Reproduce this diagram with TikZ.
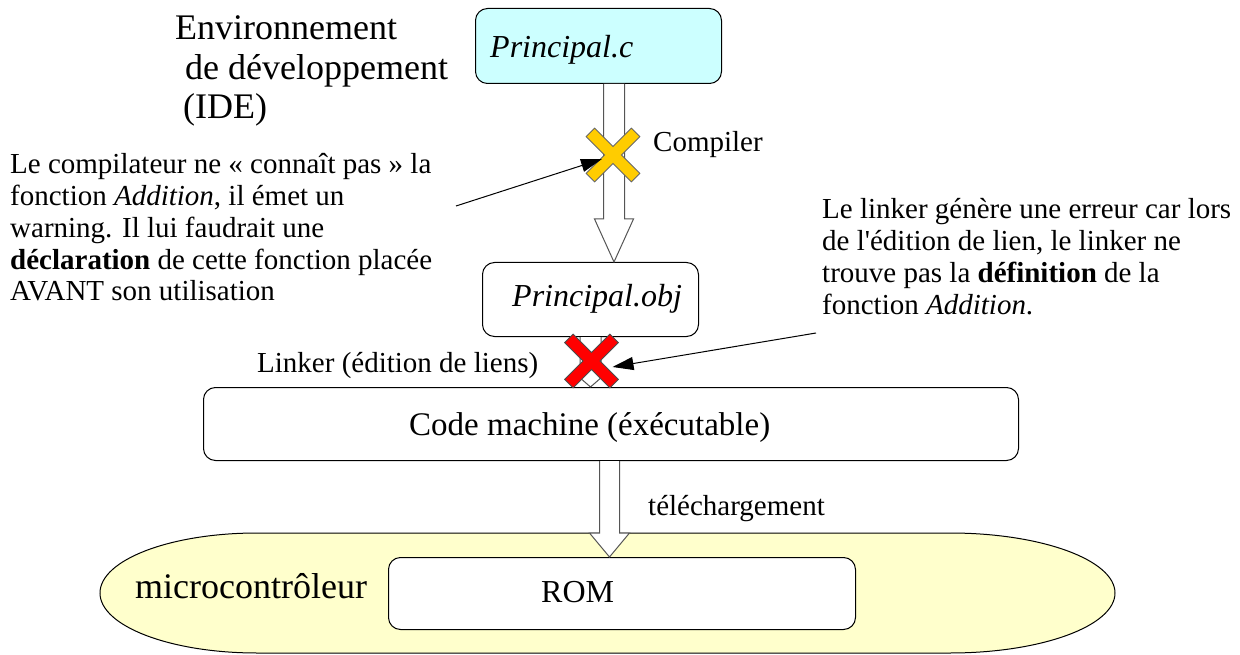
\documentclass[tikz,border=0pt]{standalone}
\usepackage{fontspec}
\setmainfont{Liberation Serif}[
  ItalicFont={Liberation Serif Italic},
  BoldFont={Liberation Serif Bold},
  BoldItalicFont={Liberation Serif Bold Italic}]
\usetikzlibrary{calc,arrows.meta}

\definecolor{srcfill}{HTML}{CCFFFF}
\definecolor{mcufill}{HTML}{FFFFCC}
\definecolor{warnfill}{HTML}{FFCC00}
\definecolor{errfill}{HTML}{FF0000}
\definecolor{arrowline}{HTML}{555555}

\tikzset{
  box/.style={draw=black, line width=1pt, rounded corners=12pt, anchor=north west,
              inner sep=0pt, fill=white},
  txt/.style={inner sep=0pt, anchor=base west, font=\fontsize{29}{31.8}\selectfont},
  boxtxt/.style={inner sep=0pt, anchor=base west, font=\fontsize{32}{36}\selectfont},
  bigtxt/.style={inner sep=0pt, anchor=base west, font=\fontsize{36}{39.5}\selectfont},
  blockarr/.style={draw=arrowline, line width=1pt, fill=white, line join=miter},
  annarrow/.style={draw=black, line width=1pt, -{Triangle[length=21pt,width=13pt]}},
  crossmark/.pic={
    \filldraw[pic actions] (6,32) -- (-6,32) -- (-6,6) -- (-32,6) -- (-32,-6) -- (-6,-6)
      -- (-6,-32) -- (6,-32) -- (6,-6) -- (32,-6) -- (32,6) -- (6,6) -- cycle;
  },
}

% hollow block arrow: start point, target anchor, shaft half width, head half width, head length
\newcommand\blockarrow[5]{%
  \draw[blockarr]
    ($(#1)+(-#3,0)$) -- ($(#1 |- #2)+(-#3,-#5)$) -- ($(#1 |- #2)+(-#4,-#5)$)
    -- (#1 |- #2) -- ($(#1 |- #2)+(#4,-#5)$) -- ($(#1 |- #2)+(#3,-#5)$)
    -- ($(#1)+(#3,0)$);}

\begin{document}
\begin{tikzpicture}[x=1pt,y=-1pt]
\useasboundingbox (0,0) rectangle (1240,655);

% microcontroller outline: straight top and bottom, elliptic ends
\filldraw[fill=mcufill, draw=black, line width=1pt]
  (257,533) -- (950,533)
  .. controls (1041.1,533) and (1115,559.9) .. (1115,593)
  .. controls (1115,626.1) and (1041.1,653) .. (950,653)
  -- (257,653)
  .. controls (170.3,653) and (100,626.1) .. (100,593)
  .. controls (100,559.9) and (170.3,533) .. (257,533) -- cycle;

% boxes
\node[box, fill=srcfill, minimum width=246pt, minimum height=75pt] (pc) at (475,8) {};
\node[box, minimum width=216pt, minimum height=74pt] (pobj) at (482,262) {};
\node[box, minimum width=815pt, minimum height=73pt] (cm) at (203,387) {};
\node[box, minimum width=467pt, minimum height=72pt] (rom) at (388,557) {};

% box captions
\node[boxtxt] (pc-t) at ($(pc.north west)+(15,50)$) {\textit{Principal.c}};
\node[boxtxt] (pobj-t) at ($(pobj.north west)+(30,44)$) {\textit{Principal.obj}};
\node[boxtxt, font=\fontsize{33}{36}\selectfont] (cm-t) at ($(cm.north west)+(206,48)$)
  {Code machine (éxécutable)};
\node[boxtxt] (rom-t) at ($(rom.north west)+(153,45)$) {ROM};

% build steps
\coordinate (c1) at ($(pc.south)+(15.5,0)$);
\coordinate (c3) at ($(cm.south)+(-1.5,0)$);
\blockarrow{c1}{pobj.north}{10.5}{19.5}{43}
\blockarrow{pobj.south}{cm.north}{10.5}{16}{14}
\blockarrow{c3}{rom.north}{10}{20}{24}

% labels (multi-line nodes sit on the baseline of their last line)
\node[bigtxt, align=left] (ide) at (175,119)
  {Environnement\\\hspace*{10pt}de développement\\\hspace*{8pt}(IDE)};
\node[bigtxt] (mcu) at (135,598) {microcontrôleur};
\node[txt] (compile) at (653,152) {Compiler};
\node[txt] (link) at (257,372) {Linker (édition de liens)};
\node[txt] (dl) at (648,515) {téléchargement};

\node[txt, align=left] (note1) at (10,301)
  {Le compilateur ne « connaît pas » la\\
   fonction \textit{Addition}, il émet un\\
   warning. Il lui faudrait une\\
   \textbf{déclaration} de cette fonction placée\\
   AVANT son utilisation};
\node[txt, align=left] (note2) at (822,314)
  {Le linker génère une erreur car lors\\
   de l\textquotesingle édition de lien, le linker ne\\
   trouve pas la \textbf{définition} de la\\
   fonction \textit{Addition}.};

% failure marks
\coordinate (warn) at (613,155);
\coordinate (err) at (591.5,361);
\pic[fill=warnfill, draw=black!60, line width=0.8pt, rotate=45] at (warn) {crossmark};
\pic[fill=errfill, draw=black!70, line width=0.8pt, rotate=45] at (err) {crossmark};

% pointers from the notes
\coordinate (note1-end) at (456,206);
\coordinate (note2-end) at (816,333);
\draw[annarrow] (note1-end) -- ($(warn)+(-11,4)$);
\draw[annarrow] (note2-end) -- ($(err)+(21,6)$);
\end{tikzpicture}
\end{document}
